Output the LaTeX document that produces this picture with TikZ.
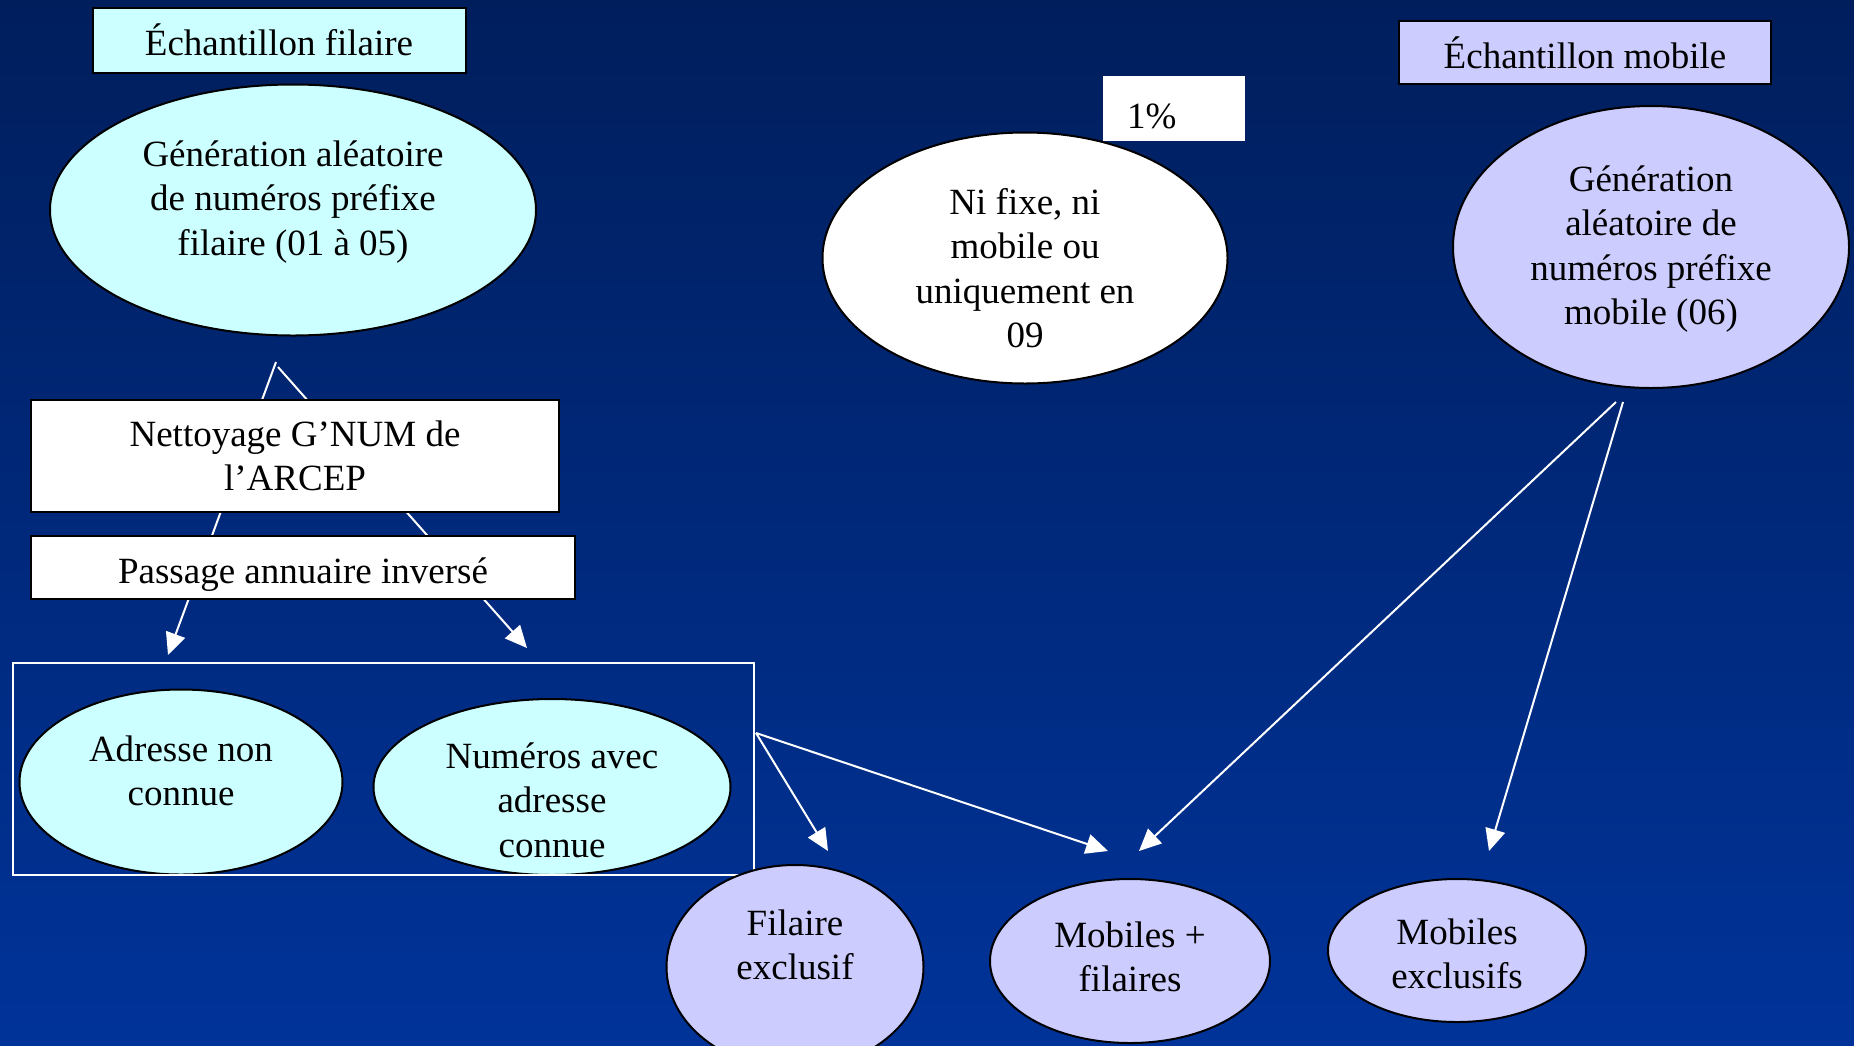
\documentclass[tikz,border=0pt]{standalone}
\usepackage{fontspec}
\setmainfont{Liberation Serif}
\usetikzlibrary{shapes.geometric,arrows.meta}
\definecolor{bgtop}{RGB}{0,30,92}
\definecolor{bgbot}{RGB}{0,51,153}
\definecolor{cyanfill}{RGB}{204,255,255}
\definecolor{lavfill}{RGB}{204,204,255}
\begin{document}
\begin{tikzpicture}[x=1pt,y=-1pt,
  ell/.style={ellipse, draw=black, line width=2pt, inner sep=0pt},
  boxs/.style={rectangle, draw=black, line width=2pt, inner sep=0pt},
  txt/.style={align=center, font=\fontsize{37}{44.5}\selectfont, inner sep=0pt, text=black},
  conn/.style={draw=white, line width=2pt, -{Triangle[length=22pt,width=20pt]}}]
\clip (0,0) rectangle (1854,1045);
\shade[top color=bgtop, bottom color=bgbot] (0,0) rectangle (1854,1045);

% connectors (drawn first, boxes cover them)
\coordinate (fa1) at (276,362);
\coordinate (fa2) at (278,367);
\coordinate (fl) at (168,655);
\coordinate (fr) at (527,648);
\draw[conn] (fa1) -- (fl);
\draw[conn] (fa2) -- (fr);

\coordinate (gs) at (756,733);
\coordinate (t1) at (828,851);
\coordinate (t2) at (1108,851);
\draw[conn] (gs) -- (t1);
\draw[conn] (gs) -- (t2);

\coordinate (ms1) at (1616,402);
\coordinate (ms2) at (1623,402);
\coordinate (t3) at (1139,851);
\coordinate (t4) at (1489,851);
\draw[conn] (ms1) -- (t3);
\draw[conn] (ms2) -- (t4);

% filaire side
\node[boxs, fill=cyanfill, minimum width=373pt, minimum height=65pt, txt] (echf) at (279,40) {Échantillon filaire};
\node[ell, fill=cyanfill, minimum width=486pt, minimum height=251pt] (genf) at (293,210) {};
\node[txt] (genft) at (293,202) {Génération aléatoire\\de numéros préfixe\\filaire (01 à 05)};

\node[boxs, fill=white, minimum width=528pt, minimum height=112pt, txt] (net) at (295,456) {Nettoyage G’NUM de\\l’ARCEP};
\node[boxs, fill=white, minimum width=544pt, minimum height=63pt] (pass) at (303,567.5) {};
\node[txt] (passt) at (303,574.5) {Passage annuaire inversé};

\node[ell, fill=cyanfill, minimum width=323pt, minimum height=185pt] (adr) at (181,782) {};
\node[txt] (adrt) at (181,771) {Adresse non\\connue};
\node[ell, fill=cyanfill, minimum width=357pt, minimum height=176pt] (num) at (552,787) {};
\node[txt] (numt) at (552,800) {Numéros avec\\adresse\\connue};
\node[draw=white, line width=1.5pt, minimum width=741pt, minimum height=212pt, inner sep=0pt] (grp) at (383.5,769) {};

% middle
\node[ell, fill=white, minimum width=405pt, minimum height=251pt] (ni) at (1025,258) {};
\node[txt] (nit) at (1025,268) {Ni fixe, ni\\mobile ou\\uniquement en\\09};
\node[fill=white, minimum width=142pt, minimum height=65pt, inner sep=0pt] (pct) at (1174,108.5) {};
\node[txt, anchor=base west] (pctt) at (1127,128) {1\%};

% mobile side
\node[boxs, fill=lavfill, minimum width=372pt, minimum height=63pt, txt] (echm) at (1585,52.5) {Échantillon mobile};
\node[ell, fill=lavfill, minimum width=396pt, minimum height=282pt] (genm) at (1651,247) {};
\node[txt] (genmt) at (1651,249) {Génération\\aléatoire de\\numéros préfixe\\mobile (06)};

% results
\node[ell, fill=lavfill, minimum width=257pt, minimum height=204pt] (fex) at (795,967) {};
\node[txt] (fext) at (795,945) {Filaire\\exclusif};
\node[ell, fill=lavfill, minimum width=280pt, minimum height=164pt] (mf) at (1130,961) {};
\node[txt] (mft) at (1130,957) {Mobiles +\\filaires};
\node[ell, fill=lavfill, minimum width=258pt, minimum height=143pt] (mex) at (1457,950.5) {};
\node[txt] (mext) at (1457,954) {Mobiles\\exclusifs};
\end{tikzpicture}
\end{document}
